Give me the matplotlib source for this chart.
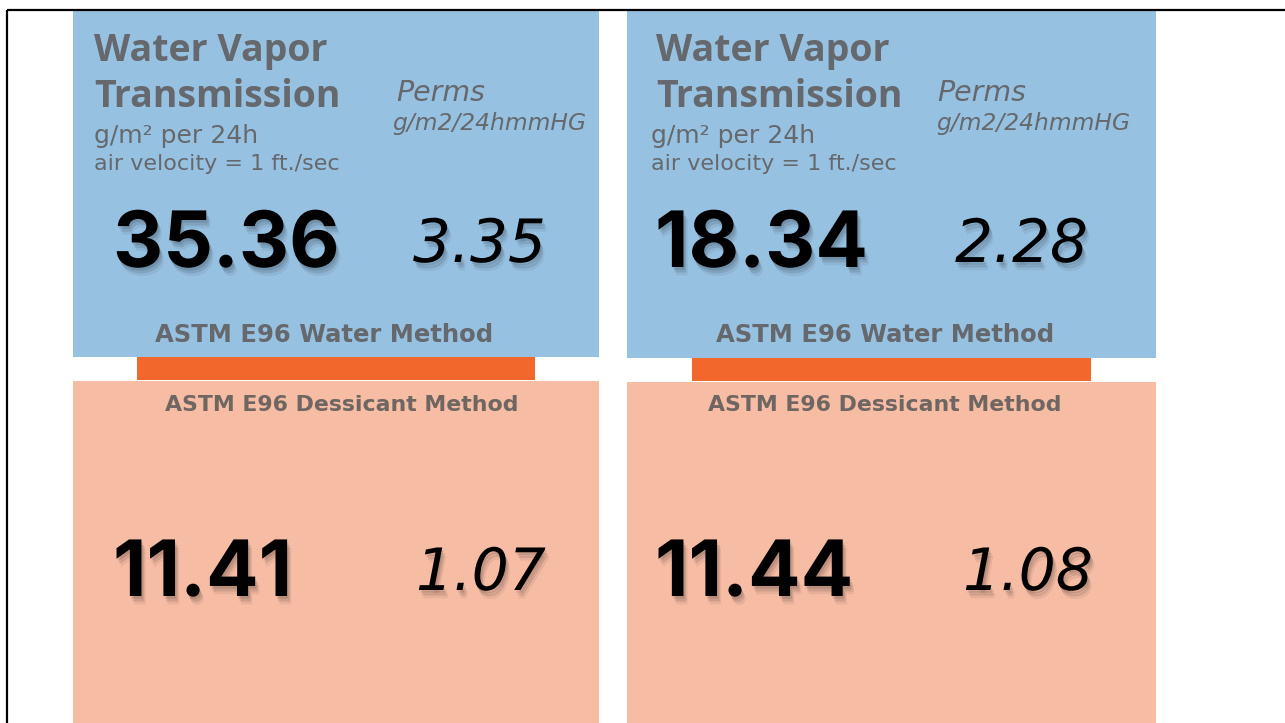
import matplotlib
matplotlib.use("Agg")
import matplotlib.pyplot as plt
import matplotlib.patches as mpatches
import matplotlib.patheffects as pe

# values shown on the two cards
wvt_water = [35.36, 18.34]        # g/m2 per 24h, water method
perms_water = [3.35, 2.28]        # perms, water method
wvt_dessicant = [11.41, 11.44]    # g/m2 per 24h, dessicant method
perms_dessicant = [1.07, 1.08]    # perms, dessicant method

title_lines = ["Water Vapor", "Transmission"]
unit_line = "g/m\u00b2 per 24h"
air_line = "air velocity = 1 ft./sec"
perms_title = "Perms"
perms_unit = "g/m2/24hmmHG"
water_label = "ASTM E96 Water Method"
dessicant_label = "ASTM E96 Dessicant Method"

BLUE = "#97c1e1"
PEACH = "#f6bca4"
ORANGE = "#f1672c"
GRAY = "#65686c"
GRAY2 = "#6f6662"

W, H = 1285, 723
fig = plt.figure(figsize=(W / 100, H / 100), dpi=100)
ax = fig.add_axes([0, 0, 1, 1])
ax.set_xlim(0, W)
ax.set_ylim(H, 0)
ax.axis("off")

# frame lines (top and left)
ax.plot([7, W], [10, 10], color="black", lw=1.6, solid_capstyle="butt")
ax.plot([7, 7], [10, H], color="black", lw=1.6, solid_capstyle="butt")

# card layout: panel left/right, text x offsets
panels = [
    dict(x0=73, x1=599, tx=94, sx=94, px=396, pux=392, nx=113, ix=413, ix2=416,
         wl=324, bar=(137, 535), dl=342, dy=357),
    dict(x0=627, x1=1156, tx=656, sx=651, px=937, pux=936, nx=655, ix=955, ix2=963,
         wl=885, bar=(692, 1091), dl=885, dy=358),
]

# soft drop shadow behind the big numbers
shadow = [pe.SimplePatchShadow(offset=(1, -2), shadow_rgbFace="black", alpha=0.10),
          pe.SimplePatchShadow(offset=(2, -4), shadow_rgbFace="black", alpha=0.10),
          pe.SimplePatchShadow(offset=(3, -6), shadow_rgbFace="black", alpha=0.06),
          pe.Normal()]

sans = ["Open Sans", "DejaVu Sans"]
wide = ["DejaVu Sans"]
num = ["Inter", "DejaVu Sans"]

for i, p in enumerate(panels):
    x0, x1 = p["x0"], p["x1"]
    ax.add_patch(mpatches.Rectangle((x0, 11), x1 - x0, p["dy"] - 11, color=BLUE, lw=0))
    ax.add_patch(mpatches.Rectangle((p["bar"][0], p["dy"]), p["bar"][1] - p["bar"][0],
                                    23, color=ORANGE, lw=0))
    ax.add_patch(mpatches.Rectangle((x0, p["dy"] + 24), x1 - x0, H - p["dy"] - 24,
                                    color=PEACH, lw=0))

    ax.text(p["tx"], 61, title_lines[0], family=sans, weight="bold", fontsize=27,
            color=GRAY, va="baseline")
    ax.text(p["tx"], 107, title_lines[1], family=sans, weight="bold", fontsize=27,
            color=GRAY, va="baseline")
    ax.text(p["sx"], 143, unit_line, family=wide, fontsize=18, color=GRAY, va="baseline")
    ax.text(p["sx"], 170, air_line, family=wide, fontsize=16, color=GRAY, va="baseline")
    ax.text(p["px"], 101, perms_title, family=wide, style="oblique", fontsize=20.5,
            color=GRAY, va="baseline")
    ax.text(p["pux"], 130, perms_unit, family=wide, style="oblique", fontsize=16.8,
            color=GRAY, va="baseline")

    ax.text(p["nx"], 267, f"{wvt_water[i]:.2f}", family=num, weight="bold",
            fontsize=56, color="black", va="baseline", path_effects=shadow)
    ax.text(p["ix"], 262, f"{perms_water[i]:.2f}", family=wide, style="oblique",
            fontsize=43, color="black", va="baseline", path_effects=shadow)
    ax.text(p["wl"], 342, water_label, family=wide, weight="bold", fontsize=17.5,
            color=GRAY, ha="center", va="baseline")

    ax.text(p["dl"], 411, dessicant_label, family=wide, weight="bold", fontsize=15.8,
            color=GRAY2, ha="center", va="baseline")
    ax.text(p["nx"], 596, f"{wvt_dessicant[i]:.2f}", family=num, weight="bold",
            fontsize=56, color="black", va="baseline", path_effects=shadow)
    ax.text(p["ix2"], 590, f"{perms_dessicant[i]:.2f}", family=wide, style="oblique",
            fontsize=42, color="black", va="baseline", path_effects=shadow)

fig.savefig("out.png", dpi=100)
